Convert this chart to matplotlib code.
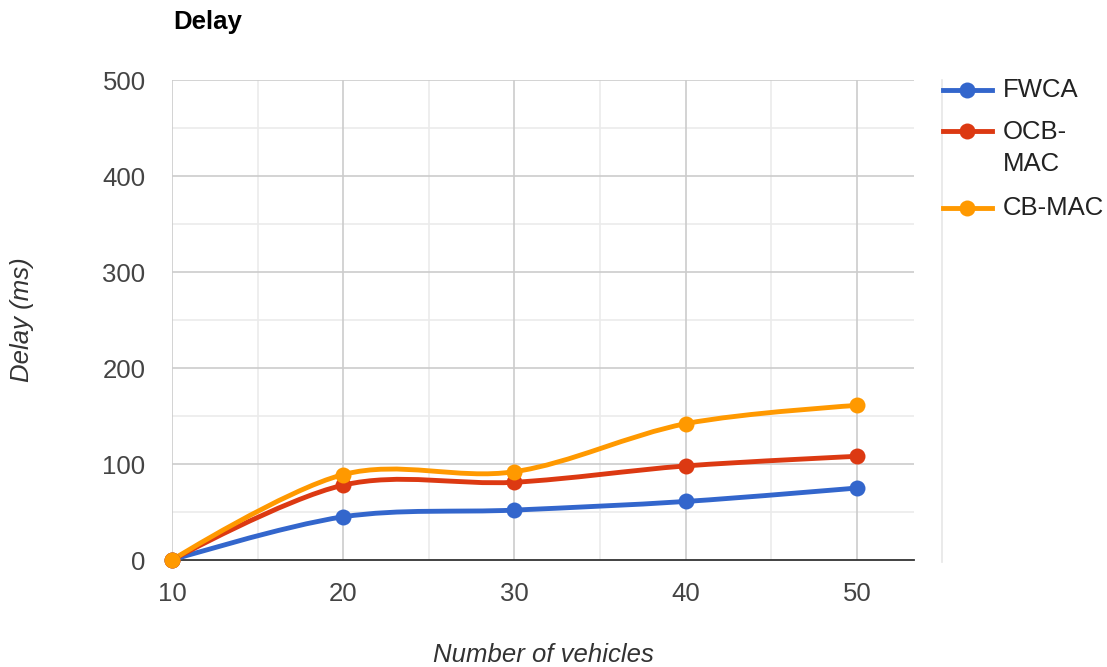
import matplotlib.pyplot as plt
import numpy as np
from matplotlib.path import Path
from matplotlib.patches import PathPatch
from matplotlib.lines import Line2D

plt.rcParams['font.family'] = ['Liberation Sans', 'DejaVu Sans']

vehicles = [10, 20, 30, 40, 50]
fwca = [0, 45, 52, 61, 75]
ocb_mac = [0, 78, 81, 98, 108]
cb_mac = [0, 89, 92, 142, 161]

series_names = ['FWCA', 'OCB-\nMAC', 'CB-MAC']
series_colors = ['#3366cc', '#dc3912', '#ff9900']
y_ticks = [0, 100, 200, 300, 400, 500]


def smooth_path(xs, ys, k=1/6):
    # cubic bezier through every point, catmull-rom style tangents
    pts = np.column_stack([xs, ys]).astype(float)
    n = len(pts)
    verts = [pts[0]]
    codes = [Path.MOVETO]
    for i in range(n - 1):
        p0 = pts[i - 1] if i > 0 else pts[i]
        p1 = pts[i]
        p2 = pts[i + 1]
        p3 = pts[i + 2] if i + 2 < n else pts[i + 1]
        c1 = p1 + (p2 - p0) * k if i > 0 else p1
        c2 = p2 - (p3 - p1) * k if i + 2 < n else p2
        verts += [c1, c2, p2]
        codes += [Path.CURVE4] * 3
    return Path(verts, codes)


fig = plt.figure(figsize=(11.07, 6.67), dpi=100)
ax = fig.add_axes([172/1107, 1 - 560/667, (914 - 172)/1107, (560 - 80)/667])

ax.set_xlim(10, 10 + (914 - 172) / (857 - 172) * 40)
ax.set_ylim(0, 500)

# grid
for x in [15, 25, 35, 45]:
    ax.axvline(x, color='#ebebeb', lw=1.2, zorder=0)
for y in range(50, 500, 100):
    ax.axhline(y, color='#ebebeb', lw=1.2, zorder=0)
for x in vehicles:
    ax.axvline(x, color='#cccccc', lw=1.2, zorder=0.5)
for y in y_ticks[1:]:
    ax.axhline(y, color='#cccccc', lw=1.2, zorder=0.5)

for s in ['top', 'right', 'left']:
    ax.spines[s].set_visible(False)
ax.spines['bottom'].set_color('#333333')
ax.spines['bottom'].set_linewidth(1.3)
ax.spines['bottom'].set_zorder(1)

for vals, col in zip([fwca, ocb_mac, cb_mac], series_colors):
    ax.add_patch(PathPatch(smooth_path(vehicles, vals), fill=False,
                           edgecolor=col, lw=3.5, capstyle='round',
                           joinstyle='round', zorder=3, clip_on=False))
    ax.plot(vehicles, vals, 'o', color=col, markersize=11.5,
            markeredgewidth=0, zorder=4, clip_on=False)

ax.set_xticks(vehicles)
ax.set_yticks(y_ticks)
ax.tick_params(length=0, labelsize=18.5, labelcolor='#444444')
ax.tick_params(axis='x', pad=16)
ax.tick_params(axis='y', pad=19)

fig.text(543/1107, 1 - 655/667, 'Number of vehicles', ha='center',
         va='center', fontsize=18.5, style='italic', color='#333333')
fig.text(22/1107, 1 - 320/667, 'Delay (ms)', ha='center', va='center',
         rotation=90, fontsize=18.5, style='italic', color='#333333')
fig.text(173/1107, 1 - 22/667, 'Delay', ha='left', va='center',
         fontsize=18.5, fontweight='bold', color='#000000')

# legend
fig.add_artist(Line2D([942/1107, 942/1107], [1 - 80/667, 1 - 562/667],
                      color='#e6e6e6', lw=1.2))
legend_y = [90, 131, 208]
for name, col, ly in zip(series_names, series_colors, legend_y):
    yy = 1 - ly/667
    fig.add_artist(Line2D([943/1107, 992/1107], [yy, yy], color=col, lw=3.5))
    fig.add_artist(Line2D([967/1107], [yy], marker='o', color=col,
                          markersize=11.5, markeredgewidth=0))
    if '\n' in name:
        fig.text(1003/1107, 1 - (ly - 11)/667, name, ha='left', va='top',
                 fontsize=18.5, color='#222222', linespacing=1.4)
    else:
        fig.text(1003/1107, yy, name, ha='left', va='center',
                 fontsize=18.5, color='#222222')

fig.savefig('out.png', dpi=100, facecolor='white')
